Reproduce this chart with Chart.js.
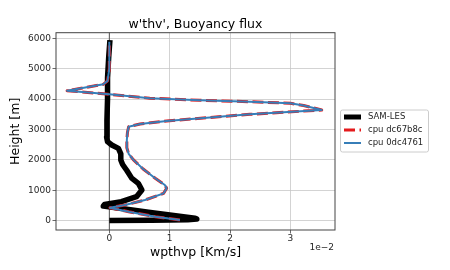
<!DOCTYPE html>
<html>
<head>
<meta charset="utf-8">
<script src="https://cdn.jsdelivr.net/npm/chart.js@4.4.1/dist/chart.umd.min.js"></script>
<style>
  body { margin: 0; background: #fff; }
</style>
</head>
<body>
<canvas id="myChart" width="450" height="270"></canvas>
<script>
// values
const heightTicks = [0, 1000, 2000, 3000, 4000, 5000, 6000];
const fluxTicks = [0, 0.01, 0.02, 0.03];

const samHeight = [10, 18, 30, 55, 85, 280, 483, 530, 625, 790, 1010, 1230, 1400, 1650, 1850, 2000, 2200, 2380, 2490, 2600, 2750, 3300, 4000, 4700, 5400, 5940];
const samFlux = [0.0, 0.007, 0.013, 0.0145, 0.0142, 0.0065, -0.001, -0.0008, 0.002, 0.0045, 0.0054, 0.0048, 0.0037, 0.0029, 0.0022, 0.0019, 0.0019, 0.0015, 0.0004, -0.0003, -0.00045, -0.0004, -0.0003, -0.0003, -0.0001, 0.0001];

const cpuHeight = [25, 132, 296, 428, 516, 680, 900, 1066, 1174, 1395, 1700, 2000, 2200, 2400, 2655, 2900, 3092, 3181, 3280, 3500, 3641, 3790, 3862, 3914, 3960, 4030, 4158, 4276, 4487, 4600, 4737, 5000, 5890];
const dc67b8cFlux = [0.0117, 0.0076, 0.0032, 0.0001, 0.0026, 0.0059, 0.0090, 0.0095, 0.0092, 0.0076, 0.0056, 0.0040, 0.0032, 0.0029, 0.0029, 0.0030, 0.0032, 0.0051, 0.0095, 0.0233, 0.0352, 0.0322, 0.0300, 0.0233, 0.0150, 0.0067, 0.0000, -0.0070, -0.0010, -0.0003, -0.0002, 0.0000, 0.0000];
const dc4761Flux = [0.0117, 0.0076, 0.0032, 0.0001, 0.0026, 0.0059, 0.0090, 0.0095, 0.0092, 0.0076, 0.0056, 0.0040, 0.0032, 0.0029, 0.0029, 0.0030, 0.0032, 0.0051, 0.0095, 0.0233, 0.0352, 0.0322, 0.0300, 0.0233, 0.0150, 0.0067, 0.0000, -0.0070, -0.0010, -0.0003, -0.0002, 0.0000, 0.0000];

const FONT = 'DejaVu Sans';

function toPoints(xs, ys) {
    return xs.map(function (x, i) { return { x: x, y: ys[i] }; });
}

const legendItems = [
    { label: 'SAM-LES', color: '#000000', width: 5, dash: [] },
    { label: 'cpu dc67b8c', color: '#e41a1c', width: 3, dash: [11, 4.5] },
    { label: 'cpu 0dc4761', color: '#377eb8', width: 2, dash: [] }
];

const extras = {
    id: 'extras',
    beforeDatasetsDraw: function (chart) {
        const c = chart.ctx, a = chart.chartArea;
        const x0 = chart.scales.x.getPixelForValue(0);
        c.save();
        c.strokeStyle = '#555';
        c.lineWidth = 1;
        c.beginPath();
        c.moveTo(x0, a.top);
        c.lineTo(x0, a.bottom);
        c.stroke();
        c.restore();
    },
    afterDraw: function (chart) {
        const c = chart.ctx, a = chart.chartArea;
        c.save();
        // axes frame
        c.strokeStyle = '#444';
        c.lineWidth = 1;
        c.strokeRect(a.left, a.top, a.right - a.left, a.bottom - a.top);

        // offset text
        c.fillStyle = '#262626';
        c.font = '9px "' + FONT + '"';
        c.textAlign = 'right';
        c.textBaseline = 'middle';
        c.fillText('1e\u22122', a.right - 1, 248);

        // legend
        const bx = 340.5, by = 110, bw = 88, bh = 42;
        c.beginPath();
        c.roundRect(bx, by, bw, bh, 2);
        c.fillStyle = 'rgba(255,255,255,0.8)';
        c.fill();
        c.strokeStyle = '#cccccc';
        c.stroke();
        c.font = '8.5px "' + FONT + '"';
        c.textAlign = 'left';
        legendItems.forEach(function (item, i) {
            const yy = 117 + i * 13;
            c.strokeStyle = item.color;
            c.lineWidth = item.width;
            c.setLineDash(item.dash);
            c.beginPath();
            c.moveTo(344, yy);
            c.lineTo(361, yy);
            c.stroke();
            c.setLineDash([]);
            c.fillStyle = '#262626';
            c.fillText(item.label, 368, yy);
        });
        c.restore();
    }
};

const ctx = document.getElementById('myChart').getContext('2d');

new Chart(ctx, {
    type: 'scatter',
    data: {
        datasets: [{
            label: 'SAM-LES',
            data: toPoints(samFlux, samHeight),
            borderColor: '#000000',
            borderWidth: 5.5,
            order: 3
        }, {
            label: 'cpu dc67b8c',
            data: toPoints(dc67b8cFlux, cpuHeight),
            borderColor: '#e41a1c',
            borderWidth: 3,
            borderDash: [11, 4.5],
            order: 2
        }, {
            label: 'cpu 0dc4761',
            data: toPoints(dc4761Flux, cpuHeight),
            borderColor: '#377eb8',
            borderWidth: 2,
            order: 1
        }]
    },
    options: {
        responsive: false,
        animation: false,
        devicePixelRatio: 1,
        datasets: {
            scatter: {
                showLine: true,
                pointRadius: 0,
                pointHoverRadius: 0,
                tension: 0,
                fill: false,
                borderJoinStyle: 'round'
            }
        },
        layout: { padding: { left: 0, right: 115, top: 0, bottom: 0 } },
        plugins: {
            legend: { display: false },
            tooltip: { enabled: false },
            title: {
                display: true,
                fullSize: false,
                text: "w'thv', Buoyancy flux",
                color: '#000',
                font: { family: FONT, size: 12.5, weight: 'normal' },
                padding: { top: 17, bottom: 0.7 }
            }
        },
        scales: {
            x: {
                type: 'linear',
                min: -0.00884,
                max: 0.0374,
                afterBuildTicks: function (scale) {
                    scale.ticks = fluxTicks.map(function (v) { return { value: v }; });
                },
                afterFit: function (scale) { scale.height = 40; },
                ticks: {
                    color: '#262626',
                    font: { family: FONT, size: 9 },
                    padding: 0,
                    maxRotation: 0,
                    callback: function (v) { return String(Math.round(v * 100)); }
                },
                grid: { color: '#c8c8c8', lineWidth: 0.8, tickLength: 3.5, tickColor: '#444' },
                border: { display: false },
                title: {
                    display: true,
                    text: 'wpthvp [Km/s]',
                    color: '#000',
                    font: { family: FONT, size: 12.5 },
                    padding: { top: 0, bottom: 10 }
                }
            },
            y: {
                type: 'linear',
                min: -306,
                max: 6184,
                afterBuildTicks: function (scale) {
                    scale.ticks = heightTicks.map(function (v) { return { value: v }; });
                },
                afterFit: function (scale) { scale.width = 56; },
                ticks: {
                    color: '#262626',
                    font: { family: FONT, size: 9 },
                    padding: 1.5,
                    callback: function (v) { return String(v); }
                },
                grid: { color: '#c8c8c8', lineWidth: 0.8, tickLength: 3.5, tickColor: '#444' },
                border: { display: false },
                title: {
                    display: true,
                    text: 'Height [m]',
                    color: '#000',
                    font: { family: FONT, size: 12.5 },
                    padding: { top: 8.5, bottom: 0 }
                }
            }
        }
    },
    plugins: [extras]
});
</script>
</body>
</html>
